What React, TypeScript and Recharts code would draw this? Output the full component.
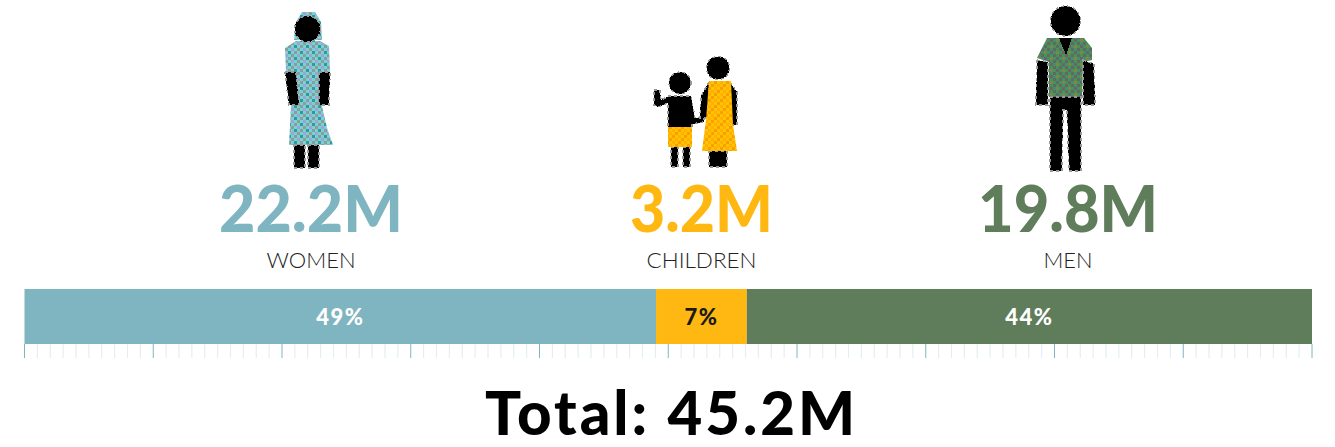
import { BarChart, Bar, XAxis, YAxis, LabelList } from 'recharts';

const categories = ['WOMEN', 'CHILDREN', 'MEN'];
const shares = [49.05, 7.05, 43.9];
const counts = ['22.2M', '3.2M', '19.8M'];
const barColors = ['#7fb5c1', '#ffb812', '#5f7d5b'];
const labelColors = ['#ffffff', '#1a1a1a', '#ffffff'];
const percentTicks = Array.from({ length: 101 }, (_, i) => i);
const total = 'Total: 45.2M';

const headingX = [311, 701.5, 1068];
const countWidths = [184, 143, 180];
const nameWidths = [89, 110, 49];
const fontFamily = 'Lato, sans-serif';

const row: Record<string, number | string> = { name: 'share' };
categories.forEach((c, i) => {
  row[c] = shares[i];
});
const data = [row];

const RulerTick = ({ x, y, payload }: any) => {
  const major = payload.value % 10 === 0;
  return (
    <line
      x1={x}
      x2={x}
      y1={y}
      y2={y + 14}
      stroke={major ? '#7fb5c1' : '#e3eff2'}
      strokeWidth={major ? 1 : 1.2}
    />
  );
};

// four by four tile of 3px cells, base colour on one diagonal
const Checker = ({ id, base, colors }: { id: string; base: string; colors: string[] }) => (
  <pattern id={id} width={12} height={12} patternUnits="userSpaceOnUse" shapeRendering="crispEdges">
    <rect width={12} height={12} fill={base} />
    <rect x={3} y={0} width={3} height={3} fill={colors[0]} />
    <rect x={9} y={0} width={3} height={3} fill={colors[1]} />
    <rect x={0} y={3} width={3} height={3} fill={colors[2]} />
    <rect x={6} y={3} width={3} height={3} fill={colors[1]} />
    <rect x={3} y={6} width={3} height={3} fill={colors[1]} />
    <rect x={9} y={6} width={3} height={3} fill={colors[0]} />
    <rect x={0} y={9} width={3} height={3} fill={colors[1]} />
    <rect x={6} y={9} width={3} height={3} fill={colors[2]} />
  </pattern>
);

const Figures = () => (
  <g>
    <defs>
      <Checker id="dressWoman" base="#78d2d2" colors={['#a29fdc', '#8c9c9e', '#2f9a9c']} />
      <Checker id="shirtMan" base="#3f9460" colors={['#666666', '#666666', '#85853f']} />
      <Checker id="dressChild" base="#ffc400" colors={['#ff9a00', '#ffb000', '#ff9a00']} />
    </defs>

    {/* woman */}
    <path d="M296 22 L302 12 L315 12 L321 22 L322 40 L294 40 Z" fill="url(#dressWoman)" />
    <path
      d="M296 41 L320 41 L329 46 L330 72 L322 106 L327 128 L333 145 L289 145 L291 106 L286 72 L285 48 Z"
      fill="url(#dressWoman)"
    />
    <g fill="#000" stroke="#999" strokeWidth={1.5} strokeDasharray="3 3" shapeRendering="crispEdges">
      <circle cx={307.5} cy={29} r={13} />
      <path d="M285 72 L296 72 L299 105 L289 105 Z" />
      <path d="M319 72 L330 72 L329 105 L319 105 Z" />
      <rect x={294} y={145} width={11} height={23} />
      <rect x={308} y={145} width={11} height={23} />
    </g>

    {/* children */}
    <g fill="#000" stroke="#999" strokeWidth={1.5} strokeDasharray="3 3" shapeRendering="crispEdges">
      <circle cx={680} cy={83} r={11} />
      <path d="M654 90 L660 90 L661 100 L669 96 L691 96 L695 118 L704 117 L704 122 L692 124 L692 128 L668 128 L668 103 L658 107 L654 105 Z" />
      <rect x={671} y={147} width={7} height={20} />
      <rect x={683} y={147} width={7} height={20} />
      <circle cx={718} cy={68} r={11.5} />
      <path d="M709 82 L701 96 L700 118 L707 118 L709 100 Z" />
      <path d="M730 82 L737 92 L737 125 L730 125 Z" />
      <rect x={709} y={151} width={18} height={16} />
    </g>
    <rect x={668} y={127} width={24} height={20} fill="url(#dressChild)" />
    <path d="M709 81 L731 81 L733 125 L737 151 L702 151 L706 120 Z" fill="url(#dressChild)" />

    {/* man */}
    <path
      d="M1047 38 L1084 38 L1092 48 L1092 60 L1083 62 L1082 97 L1049 97 L1049 62 L1037 58 Z"
      fill="url(#shirtMan)"
    />
    <g fill="#000" stroke="#999" strokeWidth={1.5} strokeDasharray="3 3" shapeRendering="crispEdges">
      <circle cx={1065.5} cy={21} r={15} />
      <path d="M1059 38 L1072 38 L1066 55 Z" stroke="none" />
      <path d="M1037 60 L1048 62 L1048 105 L1036 105 Z" />
      <path d="M1083 60 L1094 64 L1095 105 L1083 105 Z" />
      <path d="M1050 97 L1081 97 L1081 171 L1069 171 L1067 110 L1063 110 L1062 171 L1050 171 Z" />
    </g>
  </g>
);

const Headings = () => (
  <g fontFamily={fontFamily} textAnchor="middle">
    {categories.map((c, i) => (
      <g key={c}>
        <text
          x={headingX[i]}
          y={232}
          fontSize={65}
          fontWeight={900}
          textLength={countWidths[i]}
          lengthAdjust="spacingAndGlyphs"
          fill={barColors[i]}
        >
          {counts[i]}
        </text>
        <text
          x={headingX[i]}
          y={268}
          fontSize={22}
          fontWeight={300}
          textLength={nameWidths[i]}
          lengthAdjust="spacingAndGlyphs"
          fill="#222222"
        >
          {c}
        </text>
      </g>
    ))}
    <text x={670} y={435} fontSize={60} fontWeight={900} textLength={370} fill="#000000">
      {total}
    </text>
  </g>
);

export default function App() {
  return (
    <div style={{ position: 'absolute', left: 0, top: 0, width: 1335, height: 447, background: '#fff' }}>
      <BarChart
        width={1335}
        height={447}
        data={data}
        layout="vertical"
        barCategoryGap={0}
        margin={{ top: 289, right: 23, bottom: 73, left: 24.5 }}
      >
        <XAxis
          type="number"
          domain={[0, 100]}
          ticks={percentTicks}
          interval={0}
          height={30}
          axisLine={false}
          tickLine={false}
          tickSize={0}
          tickMargin={0}
          tick={<RulerTick />}
        />
        <YAxis type="category" dataKey="name" hide />
        {categories.map((c, i) => (
          <Bar key={c} dataKey={c} stackId="total" fill={barColors[i]} isAnimationActive={false}>
            <LabelList
              dataKey={c}
              position="center"
              formatter={(v: any) => `${Math.round(v)}%`}
              fill={labelColors[i]}
              fontFamily={fontFamily}
              fontSize={22}
              fontWeight={900}
              letterSpacing={1.5}
              dy={1}
            />
          </Bar>
        ))}
        <Figures />
        <Headings />
      </BarChart>
    </div>
  );
}
